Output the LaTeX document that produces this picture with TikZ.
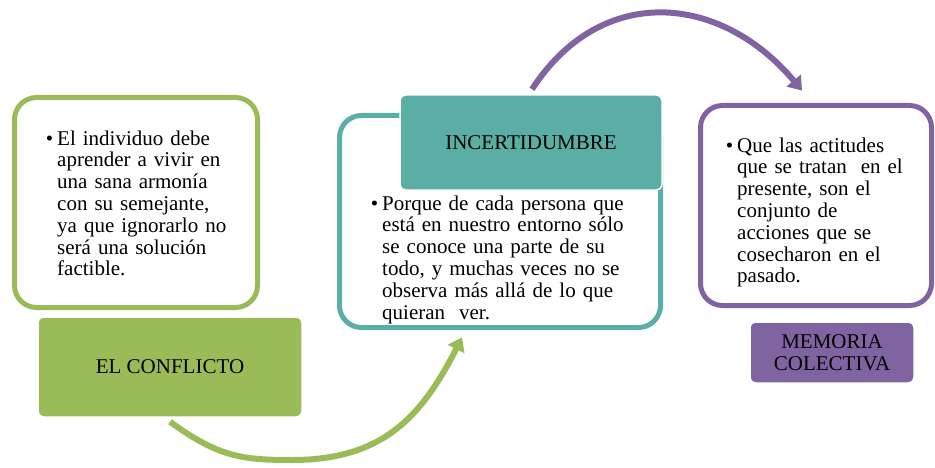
\documentclass[tikz,border=0pt]{standalone}
\usepackage{fontspec}
\setmainfont{Liberation Serif}
\usetikzlibrary{arrows.meta}
\definecolor{conflictgreen}{HTML}{9BBB59}
\definecolor{doubtteal}{RGB}{91,174,165}
\definecolor{memorypurple}{HTML}{8064A2}
\newcommand{\itemdot}{\noindent\llap{\textbullet\hspace{4pt}}}
\begin{document}
\begin{tikzpicture}[x=1pt,y=1pt,
    textbox/.style={draw=#1,line width=5pt,rounded corners=22pt,fill=white},
    labelbox/.style={fill=#1,draw=white,line width=1.5pt,rounded corners=6pt,
      font=\fontsize{21}{22}\selectfont,align=center},
    bodytext/.style={inner sep=0pt,anchor=base west,font=\fontsize{21}{21.8}\selectfont},
    flowarrow/.style={draw=#1,line width=6pt,-{Triangle[width=18pt,length=13pt]}}]
  \useasboundingbox (0,0) rectangle (935,467);

  % outlined boxes
  \node[textbox=conflictgreen,minimum width=243pt,minimum height=210pt] (conflicttext) at (136,264.5) {};
  \node[textbox=doubtteal,minimum width=321pt,minimum height=212pt] (doubttext) at (500,245.5) {};
  \node[textbox=memorypurple,minimum width=231pt,minimum height=200pt] (memorytext) at (816,261.5) {};

  % filled title boxes
  \node[labelbox=conflictgreen,minimum width=264pt,minimum height=100pt] (conflictlabel) at (170,100) {EL CONFLICTO};
  \node[labelbox=doubtteal,minimum width=262pt,minimum height=95pt] (doubtlabel) at (531,324.5) {INCERTIDUMBRE};
  \node[labelbox=memorypurple,minimum width=164pt,minimum height=61pt] (memorylabel) at (832,114.5) {MEMORIA\\COLECTIVA};

  % bullet texts
  \node[bodytext,text width=170pt] (conflictbody) at (57,322) {\itemdot El individuo debe\linebreak
    aprender a vivir en\linebreak una sana armonía\linebreak con su semejante,\linebreak
    ya que ignorarlo no\linebreak será una solución\linebreak factible.};
  \node[bodytext,text width=246pt] (doubtbody) at (382,257) {\itemdot Porque de cada persona que\linebreak
    está en nuestro entorno sólo\linebreak se conoce una parte de su\linebreak
    todo, y muchas veces no se\linebreak observa más allá de lo que\linebreak quieran~ ver.};
  \node[bodytext,text width=185pt,align=left] (memorybody) at (737,315) {\itemdot Que las actitudes\\
    que se tratan~ en el\\ presente, son el\\ conjunto de\\ acciones que se\\ cosecharon en el\\ pasado.};

  % arrows
  \coordinate (greenlow) at (292,7);
  \draw[flowarrow=conflictgreen] ([yshift=-4pt]conflictlabel.south) .. controls +(-36:60) and +(180:50) .. (greenlow)
    .. controls +(0:90) and +(-117:90) .. ([xshift=-38pt,yshift=-7.5pt]doubttext.south);
  \draw[flowarrow=memorypurple] ([xshift=1pt,yshift=5pt]doubtlabel.north) to[out=57,in=130,looseness=1.2]
    ([xshift=-14pt,yshift=12.5pt]memorytext.north);
\end{tikzpicture}
\end{document}
